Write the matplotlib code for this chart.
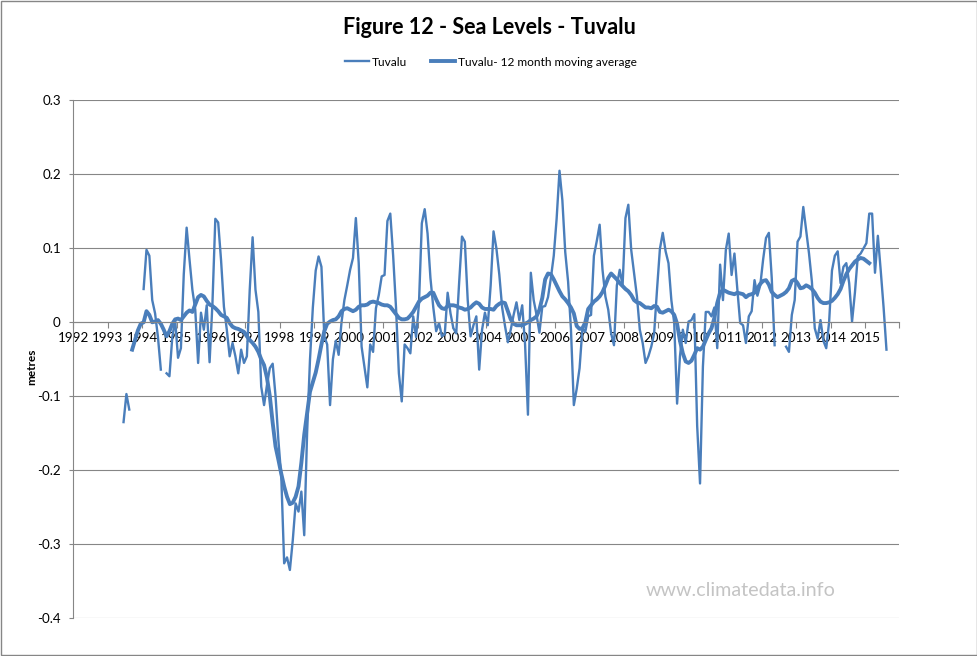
import numpy as np
import matplotlib
matplotlib.use("Agg")
import matplotlib.pyplot as plt
from matplotlib.lines import Line2D
from matplotlib.patches import Rectangle

nan = np.nan

# Tuvalu sea level (metres), monthly, first value = June 1993
tuvalu = [
    -0.135, -0.097, -0.118, nan, nan, nan, nan,                                          # 1993 Jun-Dec
    0.045, 0.098, 0.090, 0.030, 0.012, -0.020, -0.064, nan, -0.069, -0.073, -0.020, 0.003,   # 1994
    -0.048, -0.035, 0.065, 0.128, 0.085, 0.044, 0.017, -0.055, 0.013, -0.010, 0.023, -0.054,  # 1995
    0.026, 0.140, 0.135, 0.084, 0.021, -0.010, -0.046, -0.028, -0.046, -0.069, -0.037, -0.055,  # 1996
    -0.046, 0.044, 0.115, 0.044, 0.014, -0.087, -0.112, -0.085, -0.062, -0.056, -0.100, -0.160,  # 1997
    -0.209, -0.326, -0.318, -0.335, -0.295, -0.245, -0.256, -0.229, -0.288, -0.150, -0.051, 0.020,  # 1998
    0.070, 0.089, 0.075, -0.019, -0.030, -0.112, -0.050, -0.025, -0.044, 0.000, 0.030, 0.050,  # 1999
    0.071, 0.087, 0.141, 0.080, -0.033, -0.060, -0.088, -0.030, -0.040, 0.019, 0.037, 0.062,  # 2000
    0.064, 0.137, 0.147, 0.090, 0.020, -0.069, -0.107, -0.030, -0.035, -0.042, 0.008, -0.020,  # 2001
    0.025, 0.134, 0.153, 0.120, 0.060, 0.020, -0.012, -0.001, -0.019, -0.016, 0.040, 0.012,  # 2002
    -0.008, -0.015, 0.053, 0.116, 0.109, 0.030, -0.019, -0.004, 0.008, -0.064, -0.010, 0.013,  # 2003
    -0.004, 0.050, 0.123, 0.100, 0.065, 0.020, -0.005, -0.027, -0.010, 0.010, 0.027, 0.003,  # 2004
    0.023, -0.030, -0.125, 0.067, 0.030, 0.010, -0.014, 0.021, 0.022, 0.034, 0.060, 0.090,  # 2005
    0.140, 0.205, 0.165, 0.095, 0.055, -0.010, -0.112, -0.090, -0.062, -0.008, -0.013, 0.008,  # 2006
    0.010, 0.090, 0.110, 0.132, 0.071, 0.035, 0.017, -0.015, -0.031, 0.050, 0.071, 0.050,  # 2007
    0.141, 0.159, 0.098, 0.066, 0.035, -0.010, -0.028, -0.055, -0.046, -0.033, -0.015, 0.044,  # 2008
    0.099, 0.121, 0.096, 0.080, 0.030, -0.001, -0.110, -0.046, -0.010, -0.028, 0.001, 0.003,  # 2009
    0.011, -0.140, -0.218, -0.060, 0.014, 0.014, 0.008, 0.020, -0.035, 0.078, 0.030, 0.098,  # 2010
    0.120, 0.064, 0.093, 0.045, -0.001, -0.004, -0.028, 0.008, 0.015, 0.057, 0.036, 0.050,  # 2011
    0.085, 0.114, 0.121, 0.060, -0.031, nan, nan, nan, -0.033, -0.040, 0.010, 0.030,  # 2012
    0.109, 0.116, 0.156, 0.125, 0.093, 0.055, -0.008, -0.022, 0.003, -0.025, -0.035, 0.000,  # 2013
    0.070, 0.090, 0.096, 0.053, 0.075, 0.080, 0.053, 0.001, 0.040, 0.089, 0.093, 0.100,  # 2014
    0.107, 0.147, 0.147, 0.067, 0.117, 0.070, 0.020, -0.037,  # 2015 Jan-Aug
]

# 12 month moving average, first value = September 1993
tuvalu_ma = [
    -0.037, -0.024, -0.011, -0.002,  # 1993 Sep-Dec
    0.000, 0.015, 0.010, 0.000, 0.001, 0.003, -0.002, -0.010, -0.019, -0.012, -0.002, 0.004,  # 1994
    0.005, 0.003, 0.008, 0.013, 0.016, 0.014, 0.024, 0.034, 0.037, 0.035, 0.029, 0.024,  # 1995
    0.022, 0.019, 0.015, 0.010, 0.008, 0.006, -0.001, -0.006, -0.008, -0.009, -0.011, -0.013,  # 1996
    -0.019, -0.024, -0.028, -0.033, -0.040, -0.050, -0.058, -0.075, -0.100, -0.136, -0.168, -0.186,  # 1997
    -0.205, -0.222, -0.236, -0.246, -0.244, -0.236, -0.222, -0.190, -0.152, -0.123, -0.094, -0.081,  # 1998
    -0.068, -0.050, -0.030, -0.012, -0.002, 0.001, 0.003, 0.004, 0.008, 0.015, 0.018, 0.019,  # 1999
    0.017, 0.015, 0.017, 0.021, 0.023, 0.023, 0.024, 0.027, 0.028, 0.027, 0.026, 0.024,  # 2000
    0.023, 0.023, 0.021, 0.016, 0.011, 0.006, 0.004, 0.004, 0.005, 0.009, 0.014, 0.021,  # 2001
    0.028, 0.032, 0.034, 0.036, 0.040, 0.040, 0.031, 0.023, 0.019, 0.018, 0.022, 0.023,  # 2002
    0.023, 0.022, 0.020, 0.019, 0.017, 0.018, 0.020, 0.024, 0.027, 0.025, 0.020, 0.018,  # 2003
    0.018, 0.018, 0.017, 0.022, 0.025, 0.027, 0.026, 0.015, 0.004, -0.002, -0.004, -0.004,  # 2004
    -0.004, -0.002, 0.000, 0.003, 0.005, 0.008, 0.017, 0.033, 0.058, 0.066, 0.065, 0.058,  # 2005
    0.050, 0.042, 0.035, 0.031, 0.026, 0.020, 0.012, -0.005, -0.009, -0.008, 0.000, 0.018,  # 2006
    0.023, 0.028, 0.031, 0.035, 0.041, 0.050, 0.060, 0.066, 0.062, 0.058, 0.053, 0.049,  # 2007
    0.045, 0.042, 0.037, 0.030, 0.027, 0.026, 0.023, 0.020, 0.020, 0.019, 0.022, 0.021,  # 2008
    0.014, 0.013, 0.015, 0.017, 0.015, 0.010, -0.002, -0.025, -0.042, -0.053, -0.055, -0.052,  # 2009
    -0.044, -0.035, -0.037, -0.033, -0.024, -0.015, -0.008, 0.006, 0.026, 0.040, 0.044, 0.042,  # 2010
    0.040, 0.039, 0.038, 0.040, 0.039, 0.038, 0.034, 0.037, 0.038, 0.040, 0.046, 0.052,  # 2011
    0.056, 0.057, 0.051, 0.041, 0.037, 0.034, 0.036, 0.038, 0.041, 0.046, 0.056, 0.058,  # 2012
    0.053, 0.046, 0.047, 0.050, 0.048, 0.045, 0.040, 0.033, 0.028, 0.026, 0.026, 0.027,  # 2013
    0.029, 0.033, 0.038, 0.045, 0.056, 0.065, 0.072, 0.077, 0.082, 0.085, 0.087, 0.086,  # 2014
    0.083, 0.080,  # 2015 Jan-Feb
]

year_ticks = list(range(1992, 2017))
year_labels = [str(y) for y in range(1992, 2016)] + [""]
y_ticks = [-0.4, -0.3, -0.2, -0.1, 0.0, 0.1, 0.2, 0.3]
y_labels = ["-0.4", "-0.3", "-0.2", "-0.1", "0", "0.1", "0.2", "0.3"]


def monthly(first_year, first_month, n):
    # decimal year at the middle of each month
    return first_year + (first_month - 1 + np.arange(n) + 0.5) / 12.0


t_raw = monthly(1993, 6, len(tuvalu))
t_ma = monthly(1993, 9, len(tuvalu_ma))

plt.rcParams['font.family'] = ['Lato', 'DejaVu Sans']
blue = '#4A7EBB'
grey = '#868686'

fig = plt.figure(figsize=(9.78, 6.56), dpi=100)
ax = fig.add_axes([0.0750, 0.0579, 0.8446, 0.7889])

ax.plot(t_raw, tuvalu, color=blue, lw=1.7, solid_joinstyle='round')
ax.plot(t_ma, tuvalu_ma, color=blue, lw=2.8, solid_joinstyle='round')

ax.set_xlim(1992, 2016)
ax.set_ylim(-0.4, 0.3)

ax.set_yticks(y_ticks)
ax.set_yticklabels(y_labels)
ax.set_xticks(year_ticks)
ax.set_xticklabels(year_labels)

ax.yaxis.grid(True, color=grey, lw=0.8)
ax.set_axisbelow(True)

for s in ['top', 'right']:
    ax.spines[s].set_visible(False)
ax.spines['left'].set_color(grey)
ax.spines['left'].set_linewidth(0.8)
ax.spines['bottom'].set_position(('data', 0))
ax.spines['bottom'].set_color(grey)
ax.spines['bottom'].set_linewidth(0.8)

ax.tick_params(axis='x', direction='out', length=4, color=grey, width=0.8,
               labelsize=9.6, pad=3)
ax.tick_params(axis='y', direction='out', length=3, color=grey, width=0.8,
               labelsize=9.6, pad=6)

fig.text(0.5005, 1 - 27 / 656, 'Figure 12 - Sea Levels - Tuvalu', ha='center',
         va='center', fontsize=15.5, fontweight='bold')

handles = [Line2D([0], [0], color=blue, lw=1.7),
           Line2D([0], [0], color=blue, lw=2.8)]
fig.legend(handles, ['Tuvalu', 'Tuvalu- 12 month moving average'],
           loc='center', bbox_to_anchor=(0.502, 1 - 62 / 656), ncol=2,
           frameon=False, fontsize=8.6, handlelength=2.0, handletextpad=0.25,
           columnspacing=2.0)

fig.text(32 / 978, 1 - 367 / 656, 'metres', rotation=90, ha='center',
         va='center', fontsize=8.5, fontweight='bold')

fig.text(741 / 978, 1 - 591 / 656, 'www.climatedata.info', ha='center',
         va='center', fontsize=14.2, color='#c4c4c4')

fig.patches.append(Rectangle((0.0008, 0.0012), 0.9984, 0.9976,
                             transform=fig.transFigure, fill=False,
                             edgecolor=grey, lw=1.0))

fig.savefig('out.png', dpi=100)
